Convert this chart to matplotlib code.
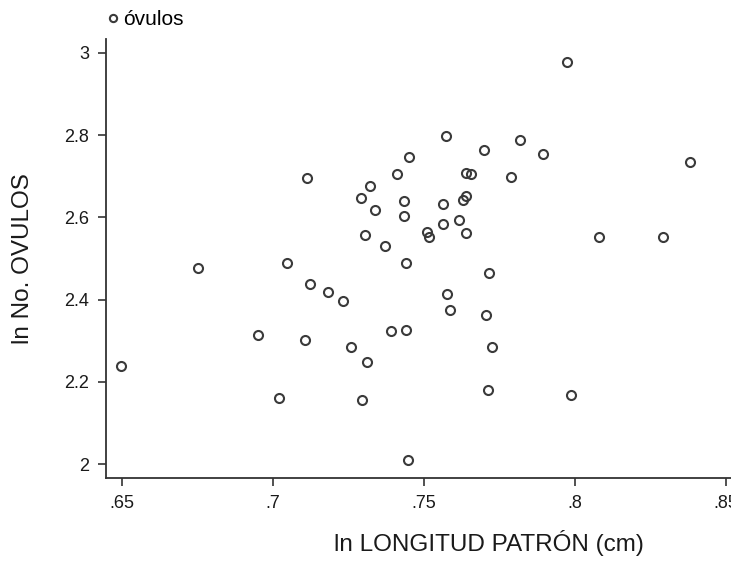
import matplotlib.pyplot as plt
from matplotlib.ticker import FuncFormatter

plt.rcParams['font.family'] = ['Liberation Sans', 'DejaVu Sans']

# ln longitud patron (cm)
ln_longitud = [0.6496, 0.6753, 0.6951, 0.7020, 0.7047, 0.7106, 0.7114, 0.7124,
               0.7182, 0.7232, 0.7257, 0.7290, 0.7294, 0.7305, 0.7312, 0.7321,
               0.7337, 0.7370, 0.7392, 0.7411, 0.7433, 0.7433, 0.7439, 0.7440,
               0.7446, 0.7450, 0.7511, 0.7518, 0.7563, 0.7563, 0.7573, 0.7577,
               0.7585, 0.7616, 0.7630, 0.7639, 0.7639, 0.7640, 0.7656, 0.7700,
               0.7705, 0.7711, 0.7714, 0.7726, 0.7787, 0.7818, 0.7894, 0.7974,
               0.7987, 0.8080, 0.8291, 0.8381]
# ln numero de ovulos
ln_ovulos = [2.238, 2.477, 2.314, 2.161, 2.490, 2.302, 2.697, 2.439,
             2.418, 2.396, 2.285, 2.646, 2.156, 2.556, 2.247, 2.676,
             2.619, 2.530, 2.324, 2.706, 2.639, 2.603, 2.325, 2.489,
             2.009, 2.748, 2.564, 2.552, 2.633, 2.585, 2.799, 2.414,
             2.374, 2.594, 2.642, 2.651, 2.563, 2.708, 2.706, 2.765,
             2.363, 2.179, 2.465, 2.284, 2.698, 2.788, 2.753, 2.978,
             2.167, 2.553, 2.553, 2.734]

xticks = [0.65, 0.7, 0.75, 0.8, 0.85]
yticks = [2, 2.2, 2.4, 2.6, 2.8, 3]

fig = plt.figure(figsize=(7.31, 5.70), dpi=100)
ax = fig.add_axes([0.145, 0.1614, 0.855, 0.7702])

ax.plot(ln_longitud, ln_ovulos, 'o', ms=6.5, mfc='none', mec='#3a3a3a', mew=1.5,
        label='óvulos')

ax.set_xlim(0.6447, 0.8517)
ax.set_ylim(1.966, 3.034)
ax.set_xticks(xticks)
ax.set_yticks(yticks)

def sin_cero(v, pos):
    s = ('%g' % v)
    if s.startswith('0.'):
        s = s[1:]
    return s

ax.xaxis.set_major_formatter(FuncFormatter(sin_cero))
ax.yaxis.set_major_formatter(FuncFormatter(sin_cero))

for side in ['top', 'right']:
    ax.spines[side].set_visible(False)
for side in ['left', 'bottom']:
    ax.spines[side].set_linewidth(1.3)
    ax.spines[side].set_color('#333333')

ax.tick_params(direction='out', length=6, width=1.2, color='#333333',
               labelsize=13, pad=6, labelcolor='#1a1a1a')

ax.set_xlabel('ln LONGITUD PATRÓN (cm)', fontsize=17.5, color='#1a1a1a')
ax.xaxis.set_label_coords(0.613, -0.118)
ax.set_ylabel('ln No. OVULOS', fontsize=17.5, labelpad=22, color='#1a1a1a')

ax.legend(loc='center left', bbox_to_anchor=(0.148, 0.965),
          bbox_transform=fig.transFigure, frameon=False, fontsize=15,
          handlelength=0.45, handletextpad=0.25, borderpad=0, borderaxespad=0,
          markerscale=0.8)

fig.savefig('out.png', dpi=100)
